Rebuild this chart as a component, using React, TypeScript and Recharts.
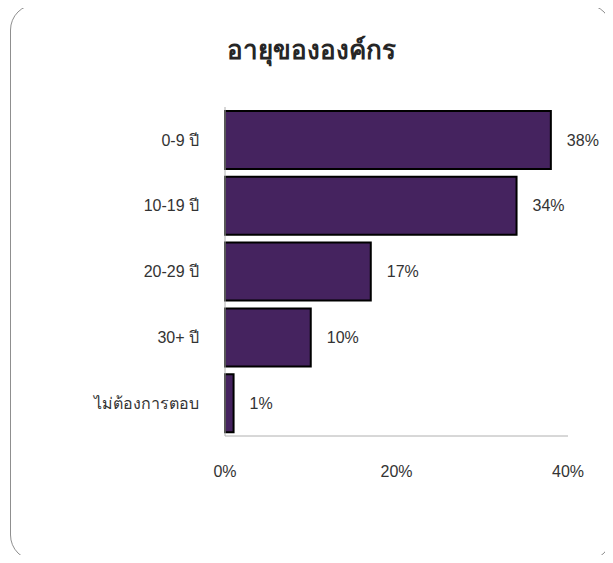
import { BarChart, Bar, XAxis, YAxis, LabelList } from 'recharts';

const categories = ["0-9 ปี", "10-19 ปี", "20-29 ปี", "30+ ปี", "ไม่ต้องการตอบ"];
const values = [38, 34, 17, 10, 1];
const xTicks = [0, 20, 40];

const data = categories.map((name, i) => ({ name, value: values[i] }));

const font = '"Liberation Sans", Arial, sans-serif';

export default function App() {
  return (
    <div style={{ position: "relative", width: 613, height: 563, margin: -8, overflow: "hidden", background: "#fff" }}>
      <div
        style={{
          position: "absolute",
          left: 10,
          top: 4,
          width: 602,
          height: 557,
          border: "1.5px solid #8f8f8f",
          borderRadius: 26,
          boxSizing: "border-box",
        }}
      />
      <div
        style={{
          position: "absolute",
          left: 10,
          width: 602,
          top: 29,
          textAlign: "center",
          fontFamily: font,
          fontWeight: "bold",
          fontSize: 26,
          color: "#262626",
        }}
      >
        อายุขององค์กร
      </div>
      <div style={{ position: "absolute", left: 0, top: 0 }}>
        <BarChart
          width={613}
          height={563}
          data={data}
          layout="vertical"
          margin={{ top: 107, right: 45, bottom: 67, left: 0 }}
          barCategoryGap={4}
        >
          <XAxis
            type="number"
            domain={[0, 40]}
            ticks={xTicks}
            tickFormatter={(v) => `${v}%`}
            axisLine={{ stroke: "#b0b0b0" }}
            tickLine={false}
            tickSize={0}
            tickMargin={30}
            height={60}
            tick={{ fill: "#333", fontSize: 16, fontFamily: font }}
          />
          <YAxis
            type="category"
            dataKey="name"
            width={225}
            axisLine={{ stroke: "#b0b0b0" }}
            tickLine={false}
            tickSize={0}
            tickMargin={26}
            tick={{ fill: "#333", fontSize: 16, fontFamily: font }}
          />
          <Bar dataKey="value" fill="#45235f" stroke="#000" strokeWidth={2} isAnimationActive={false}>
            <LabelList
              dataKey="value"
              position="right"
              offset={16}
              formatter={(v: number) => `${v}%`}
              style={{ fill: "#333", fontSize: 16, fontFamily: font }}
            />
          </Bar>
        </BarChart>
      </div>
    </div>
  );
}
